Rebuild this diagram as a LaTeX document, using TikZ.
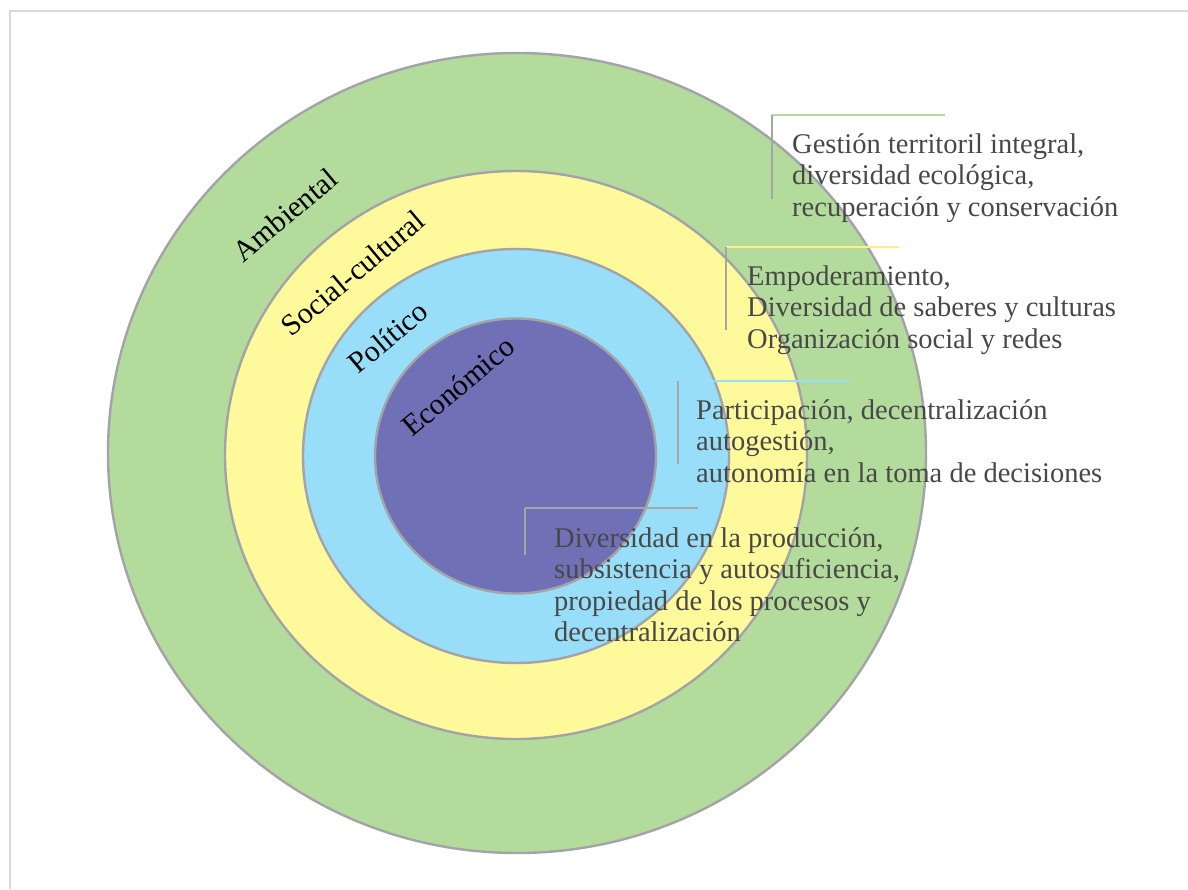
\documentclass[tikz,border=0pt]{standalone}
\usepackage{fontspec}
\setmainfont{Liberation Serif}
\usetikzlibrary{shapes.geometric}
\definecolor{cgreen}{RGB}{179,220,156}
\definecolor{cyellow}{RGB}{254,249,154}
\definecolor{cblue}{RGB}{152,222,248}
\definecolor{cpurple}{RGB}{112,112,183}
\definecolor{cring}{RGB}{163,163,168}
\definecolor{ctext}{RGB}{72,72,72}
\definecolor{cframe}{RGB}{218,218,218}
\definecolor{cstem}{RGB}{165,165,165}
\begin{document}
\begin{tikzpicture}[x=1pt,y=-1pt,
  ring/.style={ellipse,draw=cring,line width=2.4pt,inner sep=0pt,outer sep=0pt},
  ringlabel/.style={rotate=40,font=\fontsize{30}{34}\selectfont,text=black,inner sep=0pt},
  desc/.style={anchor=base west,inner sep=0pt,text=ctext,font=\fontsize{28.5}{31.5}\selectfont},
  stem/.style={draw=cstem,line width=2.4pt},
  bar/.style={line width=2.4pt}]
\useasboundingbox (0,0) rectangle (1188,889);
\fill[white] (0,0) rectangle (1188,889);
\draw[cframe,line width=2pt] (10,889) -- (10,11) -- (1188,11);
% rings
\node[ring,fill=cgreen,minimum width=818pt,minimum height=800pt] (amb) at (517,453) {};
\node[ring,fill=cyellow,minimum width=582pt,minimum height=568pt] (soc) at (516,455) {};
\node[ring,fill=cblue,minimum width=426pt,minimum height=414pt] (pol) at (516,456) {};
\node[ring,fill=cpurple,minimum width=281pt,minimum height=275pt] (eco) at (515.5,456) {};
% ring labels
\node[ringlabel] (lamb) at (285,215) {Ambiental};
\node[ringlabel] (lsoc) at (353,273) {Social-cultural};
\node[ringlabel] (lpol) at (388,337) {Político};
\node[ringlabel] (leco) at (458,386) {Económico};
% callout corners
\coordinate (a1) at (772,115); \coordinate (a2) at (945,115); \coordinate (a3) at (772,199);
\coordinate (b1) at (726,247); \coordinate (b2) at (899,247); \coordinate (b3) at (726,330);
\coordinate (c1) at (678,381); \coordinate (c2) at (850,381); \coordinate (c3) at (678,464);
\coordinate (d1) at (525,508); \coordinate (d2) at (698,508); \coordinate (d3) at (525,555);
\draw[bar,cgreen] (a1) -- (a2);
\draw[stem] (a1) -- (a3);
\draw[bar,cyellow!90!orange] (b1) -- (b2);
\draw[stem] (b1) -- (b3);
\draw[bar,cblue] (c1) -- (c2);
\draw[stem] (c1) -- (c3);
\draw[bar,cstem] (d1) -- (d2);
\draw[stem] (d1) -- (d3);
% descriptions
\node[desc] (ta) at (792,153) {\begin{tabular}[t]{@{}l@{}}Gestión territoril integral,\\diversidad ecológica,\\recuperación y conservación\end{tabular}};
\node[desc] (tb) at (747,285) {\begin{tabular}[t]{@{}l@{}}Empoderamiento,\\Diversidad de saberes y culturas\\Organización social y redes\end{tabular}};
\node[desc] (tc) at (696,419) {\begin{tabular}[t]{@{}l@{}}Participación, decentralización\\autogestión,\\autonomía en la toma de decisiones\end{tabular}};
\node[desc] (td) at (554,547) {\begin{tabular}[t]{@{}l@{}}Diversidad en la producción,\\subsistencia y autosuficiencia,\\propiedad de los procesos y\\decentralización\end{tabular}};
\end{tikzpicture}
\end{document}
